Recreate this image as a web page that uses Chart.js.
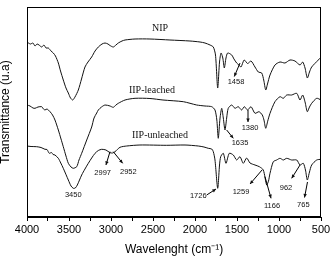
<!DOCTYPE html>
<html>
<head>
<meta charset="utf-8">
<script src="https://cdn.jsdelivr.net/npm/chart.js@4/dist/chart.umd.min.js"></script>
<style>
  html, body { margin: 0; padding: 0; background: #fff; }
  #wrap { width: 335px; height: 262px; position: relative; }
</style>
</head>
<body>
<div id="wrap"><canvas id="grafico"></canvas></div>
<script>
// numero de onda (cm-1) e transmitancia (u.a.)
const nipWn = [4000, 3960, 3929, 3905, 3880, 3857, 3825, 3798, 3774, 3746, 3714, 3687, 3661, 3627, 3601, 3568, 3536, 3508, 3482, 3456, 3429, 3389, 3351, 3310, 3274, 3230, 3190, 3151, 3107, 3071, 3036, 3012, 2973, 2941, 2913, 2869, 2833, 2714, 2536, 2298, 2060, 1940, 1881, 1821, 1782, 1756, 1730, 1708, 1690, 1669, 1651, 1631, 1611, 1563, 1536, 1504, 1477, 1453, 1414, 1374, 1333, 1286, 1246, 1206, 1182, 1158, 1137, 1107, 1048, 988, 929, 869, 810, 750, 718, 690, 663, 637, 611, 532, 500];
const nipT = [175, 173, 174, 171, 173, 172, 170, 172, 169, 169, 166, 164, 161, 154, 146, 137, 129, 124, 119, 117, 120, 127, 138, 150, 155, 160, 166, 170, 173, 174, 173, 171.5, 170, 172, 174, 176, 177, 178, 178, 177, 176, 175, 174, 172, 170, 162, 129, 155, 164, 159, 149, 159, 164, 162, 158, 154, 152, 150, 157, 153.5, 156, 150, 145, 144, 137, 127, 133, 142, 152, 155, 154, 157, 156, 152, 155, 149, 139, 145, 150, 157, 160];

const leachWn = [4000, 3964, 3929, 3905, 3869, 3825, 3804, 3786, 3762, 3726, 3696, 3667, 3627, 3595, 3568, 3536, 3508, 3476, 3449, 3408, 3381, 3349, 3289, 3230, 3202, 3170, 3151, 3113, 3071, 3012, 2973, 2941, 2913, 2833, 2714, 2536, 2381, 2139, 1980, 1881, 1801, 1762, 1740, 1723, 1702, 1682, 1663, 1643, 1623, 1604, 1563, 1524, 1485, 1445, 1413, 1374, 1333, 1286, 1238, 1199, 1179, 1158, 1134, 1107, 1048, 988, 949, 908, 849, 789, 750, 718, 690, 663, 637, 611, 551, 500];
const leachT = [112, 111, 109, 108.7, 110, 110.3, 108, 107, 108, 105.3, 102, 97, 87, 78, 70.3, 61, 53.7, 50, 48.7, 50.3, 57, 63.7, 77, 90, 99, 104, 107, 110, 112, 111, 109.7, 112, 113.7, 117, 118.7, 118.5, 117, 115.3, 112, 111, 110.3, 107, 97, 78.7, 99, 108.7, 99, 87, 99, 108.7, 112, 108.7, 110.3, 107, 110.3, 107, 110.3, 103.7, 105.3, 102, 97, 88.7, 96, 103.7, 115.3, 120.3, 118.7, 122, 122, 123.7, 117, 122, 115, 105.3, 110, 113.7, 118.7, 117];

const unleachWn = [4000, 3952, 3885, 3833, 3786, 3762, 3735, 3708, 3690, 3667, 3627, 3598, 3568, 3508, 3476, 3449, 3425, 3401, 3349, 3310, 3270, 3230, 3190, 3151, 3111, 3060, 3012, 2982, 2952, 2893, 2813, 2655, 2337, 2119, 1961, 1893, 1842, 1801, 1782, 1762, 1730, 1708, 1694, 1663, 1631, 1592, 1544, 1504, 1465, 1425, 1385, 1345, 1286, 1234, 1187, 1147, 1125, 1107, 1068, 1028, 988, 949, 908, 849, 789, 750, 711, 685, 663, 637, 611, 551, 500];
const unleachT = [71, 70.5, 70.3, 69.5, 67.7, 67.5, 63.7, 64.5, 62.5, 62, 58.7, 54, 48.7, 37, 31, 28.7, 29, 32, 42, 48, 53.7, 59, 63.7, 66.5, 67.7, 67, 64.3, 64, 65.3, 69.7, 71, 72, 71.7, 72, 71, 70, 68.7, 68, 65.3, 57, 28.7, 52, 60.3, 63.7, 53.7, 63.7, 62, 57, 60.3, 53.7, 59, 54, 52, 50.3, 47, 32, 36, 43.7, 55.3, 57, 58.7, 57, 58.7, 57, 57, 52, 53.7, 47, 37, 45, 52, 57, 57.7];

// rotulos das curvas: [texto, x, y]
const curveLabels = [["NIP", 2417, 189], ["IIP-leached", 2512, 127], ["IIP-unleached", 2417, 82]];
// picos: [texto, x do texto, y do texto, seta de (x,y) para (x,y)]
const peakLabels = [
  ["1458", 1512, 135, [1464, 154, 1532, 140.5]],
  ["1635", 1464, 74, [1623, 87, 1544, 78.7]],
  ["1380", 1345, 89, [1369, 107, 1369, 95]],
  ["3450", 3449, 22, null],
  ["2997", 3099, 44.3, [3012, 65.3, 3060, 52]],
  ["2952", 2794, 45.3, [2973, 65.3, 2861, 53.7]],
  ["1726", 1961, 21, [1861, 22, 1750, 28]],
  ["1259", 1452, 25, [1202, 47, 1345, 33]],
  ["1166", 1083, 11, [1167, 40.3, 1095, 18.7]],
  ["962", 917, 29.5, [750, 52, 849, 38.7]],
  ["765", 710, 12, [661, 35, 696, 19.5]]
];

const toXY = (xs, ys) => xs.map((x, i) => ({ x: x, y: ys[i] }));

// caixa em volta da area do grafico + textos e setas
const anotacoes = {
  id: 'anotacoes',
  afterDatasetsDraw(chart) {
    const { ctx, chartArea, scales } = chart;
    const px = v => scales.x.getPixelForValue(v);
    const py = v => scales.y.getPixelForValue(v);
    ctx.save();
    ctx.strokeStyle = '#000';
    ctx.lineWidth = 1;
    ctx.strokeRect(chartArea.left + 0.5, chartArea.top + 0.5, chartArea.right - chartArea.left - 1, chartArea.bottom - chartArea.top - 1);

    ctx.fillStyle = '#111';
    ctx.textAlign = 'center';
    ctx.textBaseline = 'middle';
    ctx.font = '10px "Liberation Serif"';
    curveLabels.forEach(l => ctx.fillText(l[0], px(l[1]), py(l[2])));

    ctx.font = '7.5px "Liberation Sans"';
    peakLabels.forEach(p => {
      ctx.fillText(p[0], px(p[1]), py(p[2]));
      if (!p[3]) return;
      const x1 = px(p[3][0]), y1 = py(p[3][1]), x2 = px(p[3][2]), y2 = py(p[3][3]);
      ctx.beginPath();
      ctx.moveTo(x1, y1);
      ctx.lineTo(x2, y2);
      ctx.stroke();
      // ponta da seta
      const a = Math.atan2(y2 - y1, x2 - x1);
      ctx.beginPath();
      ctx.moveTo(x2, y2);
      ctx.lineTo(x2 - 4 * Math.cos(a - 0.45), y2 - 4 * Math.sin(a - 0.45));
      ctx.lineTo(x2 - 4 * Math.cos(a + 0.45), y2 - 4 * Math.sin(a + 0.45));
      ctx.closePath();
      ctx.fill();
    });
    ctx.restore();
  }
};

const linha = (data) => ({
  data: data,
  borderColor: '#111',
  borderWidth: 1,
  pointRadius: 0,
  tension: 0.25,
  fill: false
});

const ctx = document.getElementById('grafico').getContext('2d');
new Chart(ctx, {
  type: 'line',
  data: {
    datasets: [
      linha(toXY(nipWn, nipT)),
      linha(toXY(leachWn, leachT)),
      linha(toXY(unleachWn, unleachT))
    ]
  },
  options: {
    responsive: true,
    maintainAspectRatio: false,
    animation: false,
    layout: { padding: { left: 0, right: 14, top: 7, bottom: 0 } },
    plugins: { legend: { display: false }, tooltip: { enabled: false } },
    scales: {
      x: {
        type: 'linear',
        reverse: true,
        min: 500,
        max: 4000,
        afterFit: s => { s.height = 45; },
        border: { display: true, color: '#000' },
        grid: { drawOnChartArea: false, drawTicks: true, tickLength: 4, color: '#000' },
        ticks: {
          stepSize: 250,
          autoSkip: false,
          maxRotation: 0,
          padding: 2,
          color: '#000',
          font: { family: 'Liberation Sans', size: 11 },
          callback: v => (v % 500 === 0 ? v : '')
        },
        title: {
          display: true,
          text: 'Wavelenght (cm⁻¹)',
          color: '#000',
          font: { family: 'Liberation Sans', size: 12 },
          padding: { top: 0, bottom: 5 }
        }
      },
      y: {
        min: 0,
        max: 210,
        afterFit: s => { s.width = 27; },
        border: { display: true, color: '#000' },
        grid: { display: false },
        ticks: { display: false },
        title: {
          display: true,
          text: 'Transmittance (u.a)',
          color: '#000',
          font: { family: 'Liberation Sans', size: 12, lineHeight: 1 },
          padding: 0
        }
      }
    }
  },
  plugins: [anotacoes]
});
</script>
</body>
</html>
